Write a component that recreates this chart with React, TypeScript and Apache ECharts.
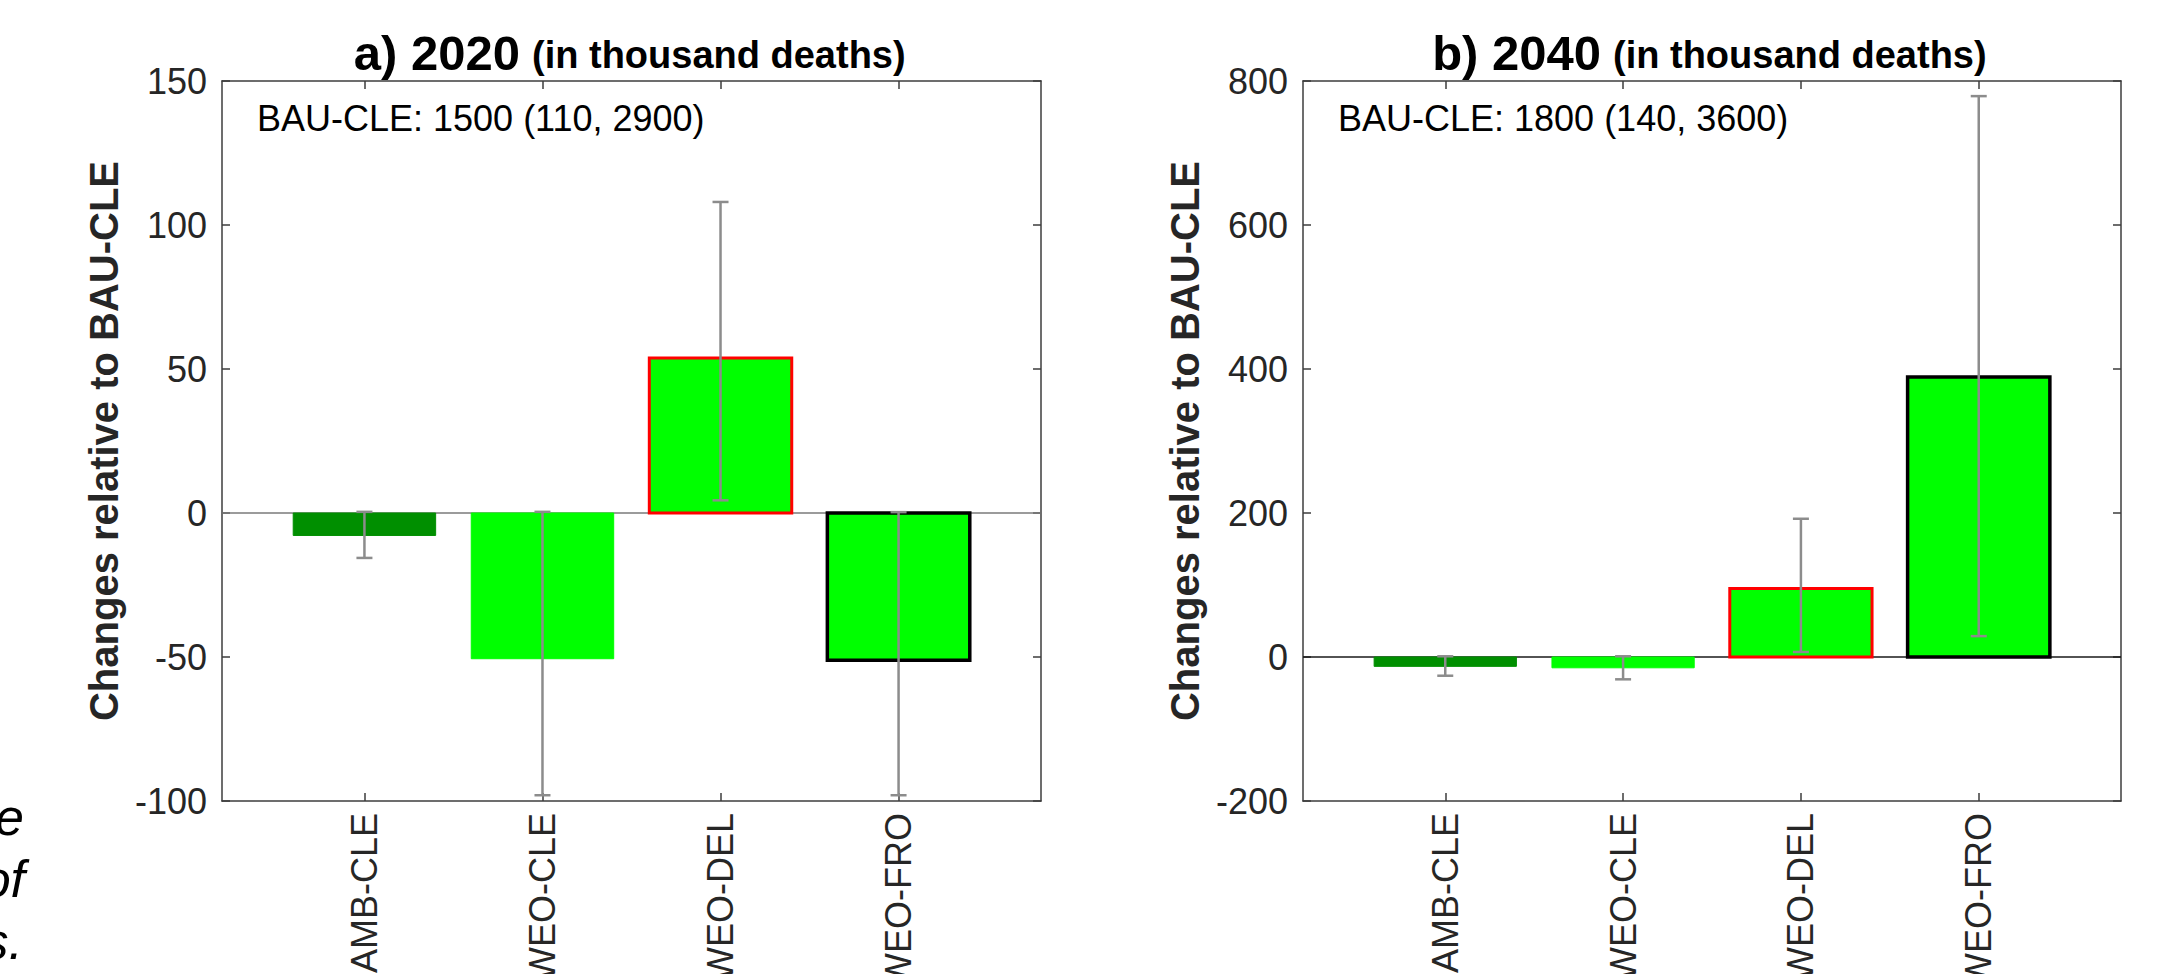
import React, { useEffect, useRef } from "react";
import * as echarts from "echarts";

const categories = ["AMB-CLE", "WEO-CLE", "WEO-DEL", "WEO-FRO"];

const values2020 = [-7.8, -50.6, 53.8, -51.1];
const errLow2020 = [-15.6, -98, 4.4, -98];
const errHigh2020 = [0.4, 0.4, 108, 0.3];

const values2040 = [-13, -15, 95, 389];
const errLow2040 = [-26, -31, 7, 29];
const errHigh2040 = [1, 1, 192, 779];

const yRange2020 = [-100, 150, 50];
const yRange2040 = [-200, 800, 200];

const titleMain = ["a) 2020", "b) 2040"];
const titleSub = "(in thousand deaths)";
const baseNotes = ["BAU-CLE: 1500 (110, 2900)", "BAU-CLE: 1800 (140, 3600)"];
const sideText = ["e", "of", "s."];

const barFill = ["#008f00", "#00ff00", "#00ff00", "#00ff00"];
const barEdge = ["#008f00", "#00ff00", "#ff0000", "#000000"];
const barEdgeWidth = [1, 1, 3, 3.5];

const FONT = "'Liberation Sans', Arial, Helvetica, sans-serif";
const AXIS_COLOR = "#3c3c3c";
const TEXT_COLOR = "#262626";

const GRIDS = [
  { left: 222, top: 81, width: 819, height: 720 },
  { left: 1303, top: 81, width: 818, height: 720 },
];

const positions = categories.map((_, i) => i + 1);

function xAxes(gridIndex: number) {
  const common = {
    gridIndex,
    type: "value",
    min: 0.2,
    max: 4.8,
    splitLine: { show: false },
    axisLine: { show: true, onZero: false, lineStyle: { color: AXIS_COLOR, width: 1.5 } },
    axisTick: {
      show: true,
      inside: true,
      length: 8,
      customValues: positions,
      lineStyle: { color: AXIS_COLOR, width: 1.5 },
    },
  };
  return [
    {
      ...common,
      position: "bottom",
      axisLabel: {
        show: true,
        customValues: positions,
        formatter: (v: number) => categories[Math.round(v) - 1] ?? "",
        rotate: 90,
        margin: 12,
        fontSize: 36,
        color: TEXT_COLOR,
        fontFamily: FONT,
      },
    },
    { ...common, position: "top", axisLabel: { show: false } },
  ];
}

function yAxes(gridIndex: number, range: number[]) {
  const common = {
    gridIndex,
    type: "value",
    min: range[0],
    max: range[1],
    interval: range[2],
    splitLine: { show: false },
    axisLine: { show: true, onZero: false, lineStyle: { color: AXIS_COLOR, width: 1.5 } },
    axisTick: { show: true, inside: true, length: 8, lineStyle: { color: AXIS_COLOR, width: 1.5 } },
  };
  return [
    {
      ...common,
      position: "left",
      axisLabel: { show: true, fontSize: 36, margin: 15, color: TEXT_COLOR, fontFamily: FONT },
      name: "Changes relative to BAU-CLE",
      nameLocation: "middle",
      nameGap: 98,
      nameTextStyle: { fontSize: 40, fontWeight: "bold", color: TEXT_COLOR, fontFamily: FONT },
    },
    { ...common, position: "right", axisLabel: { show: false } },
  ];
}

function barSeries(idx: number, values: number[], zeroColor: string) {
  return {
    type: "custom",
    xAxisIndex: idx * 2,
    yAxisIndex: idx * 2,
    encode: { x: 0, y: 1 },
    data: values.map((v, i) => [positions[i], v]),
    z: 2,
    renderItem: (params: any, api: any) => {
      const i = params.dataIndex;
      const x = api.value(0);
      const v = api.value(1);
      const a = api.coord([x - 0.4, v]);
      const b = api.coord([x + 0.4, 0]);
      return {
        type: "rect",
        shape: {
          x: a[0],
          y: Math.min(a[1], b[1]),
          width: b[0] - a[0],
          height: Math.abs(b[1] - a[1]),
        },
        style: { fill: barFill[i], stroke: barEdge[i], lineWidth: barEdgeWidth[i] },
      };
    },
    markLine: {
      silent: true,
      symbol: ["none", "none"],
      label: { show: false },
      lineStyle: { color: zeroColor, width: 1.5, type: "solid" },
      data: [{ yAxis: 0 }],
      z: 1,
    },
  };
}

function errSeries(idx: number, low: number[], high: number[]) {
  return {
    type: "custom",
    xAxisIndex: idx * 2,
    yAxisIndex: idx * 2,
    encode: { x: 0, y: [1, 2] },
    data: low.map((l, i) => [positions[i], l, high[i]]),
    z: 5,
    renderItem: (params: any, api: any) => {
      const x = api.value(0);
      const lo = api.coord([x, api.value(1)]);
      const hi = api.coord([x, api.value(2)]);
      const cap = 8;
      const style = { stroke: "#8c8c8c", lineWidth: 2.5 };
      return {
        type: "group",
        children: [
          { type: "line", shape: { x1: lo[0], y1: lo[1], x2: hi[0], y2: hi[1] }, style },
          { type: "line", shape: { x1: lo[0] - cap, y1: lo[1], x2: lo[0] + cap, y2: lo[1] }, style },
          { type: "line", shape: { x1: hi[0] - cap, y1: hi[1], x2: hi[0] + cap, y2: hi[1] }, style },
        ],
      };
    },
  };
}

export default function App() {
  const ref = useRef<HTMLDivElement>(null);
  useEffect(() => {
    if (!ref.current) return;
    const chart = echarts.init(ref.current, undefined, { renderer: "svg" });

    const graphics: any[] = [];
    GRIDS.forEach((g, k) => {
      graphics.push({
        type: "text",
        x: g.left + 298,
        y: 53,
        style: {
          text: titleMain[k],
          font: `bold 49px ${FONT}`,
          fill: "#000",
          textAlign: "right",
          textVerticalAlign: "middle",
        },
      });
      graphics.push({
        type: "text",
        x: g.left + 310,
        y: 55,
        style: {
          text: titleSub,
          font: `bold 38px ${FONT}`,
          fill: "#000",
          textAlign: "left",
          textVerticalAlign: "middle",
        },
      });
      graphics.push({
        type: "text",
        x: g.left + 35,
        y: 118,
        style: {
          text: baseNotes[k],
          font: `36px ${FONT}`,
          fill: "#000",
          textAlign: "left",
          textVerticalAlign: "middle",
        },
      });
    });
    const sideY = [817, 879, 941];
    const sideX = [24, 25, 23];
    sideText.forEach((t, i) => {
      graphics.push({
        type: "text",
        x: sideX[i],
        y: sideY[i],
        style: {
          text: t,
          font: `italic 52px ${FONT}`,
          fill: "#000",
          textAlign: "right",
          textVerticalAlign: "middle",
        },
      });
    });

    chart.setOption({
      animation: false,
      backgroundColor: "#ffffff",
      grid: GRIDS.map((g) => ({ ...g, containLabel: false, outerBoundsMode: "none" })),
      xAxis: [...xAxes(0), ...xAxes(1)],
      yAxis: [...yAxes(0, yRange2020), ...yAxes(1, yRange2040)],
      series: [
        barSeries(0, values2020, "#7a7a7a"),
        errSeries(0, errLow2020, errHigh2020),
        barSeries(1, values2040, "#1a1a1a"),
        errSeries(1, errLow2040, errHigh2040),
      ],
      graphic: graphics,
    });
    return () => chart.dispose();
  }, []);
  return (
    <div
      ref={ref}
      style={{ position: "fixed", left: 0, top: 0, width: 2166, height: 974, background: "#fff" }}
    />
  );
}
